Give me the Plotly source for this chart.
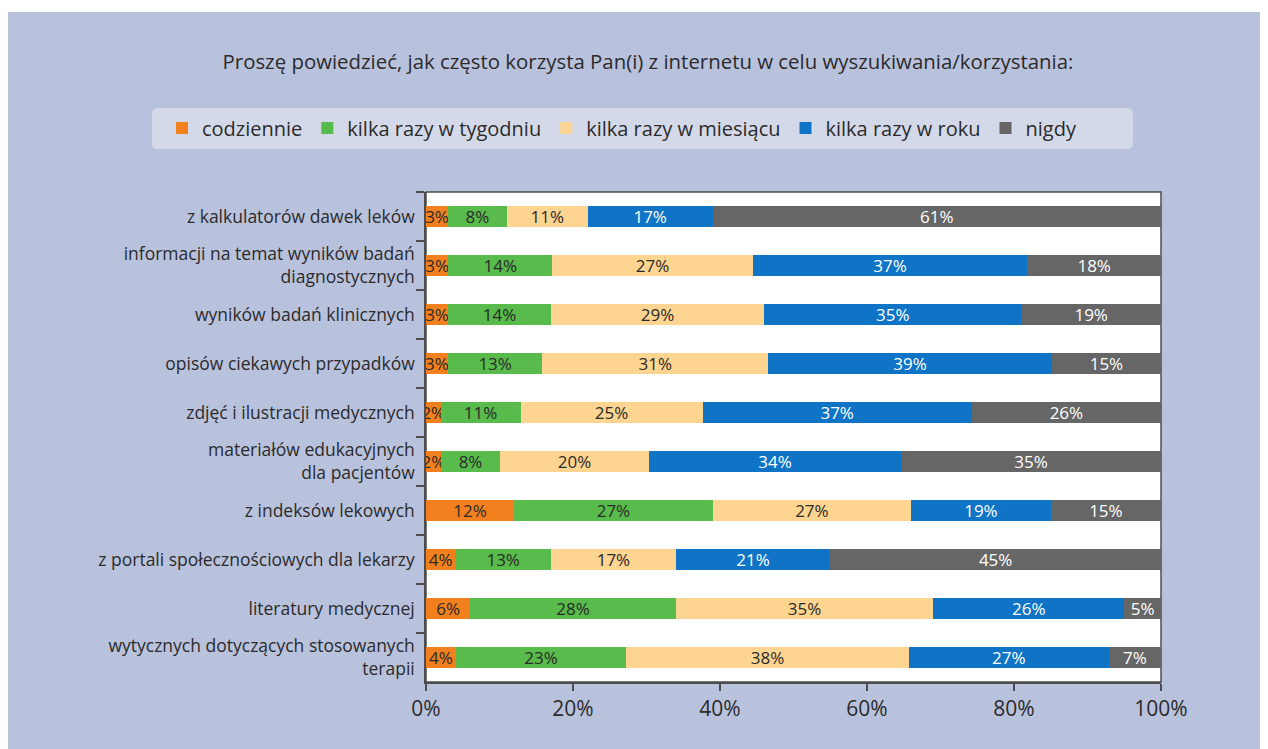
import plotly.graph_objects as go

categories = [
    "z kalkulatorów dawek leków",
    "informacji na temat wyników badań<br>diagnostycznych",
    "wyników badań klinicznych",
    "opisów ciekawych przypadków",
    "zdjęć i ilustracji medycznych",
    "materiałów edukacyjnych<br>dla pacjentów",
    "z indeksów lekowych",
    "z portali społecznościowych dla lekarzy",
    "literatury medycznej",
    "wytycznych dotyczących stosowanych<br>terapii",
]
series_names = ["codziennie", "kilka razy w tygodniu", "kilka razy w miesiącu", "kilka razy w roku", "nigdy"]
codziennie = [3, 3, 3, 3, 2, 2, 12, 4, 6, 4]
tygodniu = [8, 14, 14, 13, 11, 8, 27, 13, 28, 23]
miesiacu = [11, 27, 29, 31, 25, 20, 27, 17, 35, 38]
roku = [17, 37, 35, 39, 37, 34, 19, 21, 26, 27]
nigdy = [61, 18, 19, 15, 26, 35, 15, 45, 5, 7]
x_ticks = [0, 20, 40, 60, 80, 100]

series_values = [codziennie, tygodniu, miesiacu, roku, nigdy]
colors = ["#f2801e", "#58bb4b", "#fdd490", "#0f74c6", "#666666"]
text_colors = ["#2a2a2a", "#2a2a2a", "#2a2a2a", "#ffffff", "#ffffff"]

FONT = "Open Sans"
TXT = "#2b2b2b"
fig = go.Figure()
for name, vals, col, tcol in zip(series_names, series_values, colors, text_colors):
    fig.add_trace(go.Bar(
        y=categories, x=vals, name=name, orientation="h",
        marker=dict(color=col, line=dict(width=0)),
        text=[f"{v}%" for v in vals], textposition="inside", textangle=0,
        insidetextanchor="middle",
        textfont=dict(color=tcol, size=17, family=FONT),
        width=0.41,
    ))

# page body has an 8px margin: figure coords = screen coords - 8
OFF = 8
W, H = 1260, 741
L, T = 426 - OFF, 192 - OFF
pw, ph = 735, 490
R, B = W - L - pw, H - T - ph

def px(xs):
    return (xs - OFF - L) / pw

def py(ys):
    return (T + ph - (ys - OFF)) / ph

# rounded legend box path
bx0, bx1, by0, by1 = px(152), px(1133), py(149), py(108)
rx, ry = 6 / pw, 6 / ph
legend_path = (
    f"M{bx0+rx},{by0} L{bx1-rx},{by0} Q{bx1},{by0} {bx1},{by0+ry} "
    f"L{bx1},{by1-ry} Q{bx1},{by1} {bx1-rx},{by1} L{bx0+rx},{by1} "
    f"Q{bx0},{by1} {bx0},{by1-ry} L{bx0},{by0+ry} Q{bx0},{by0} {bx0+rx},{by0} Z"
)

shapes = [
    dict(type="rect", xref="paper", yref="paper", x0=px(0), x1=px(1300), y0=py(800), y1=py(12),
         fillcolor="#b9c2dd", line=dict(width=0), layer="below"),
    dict(type="path", xref="paper", yref="paper", path=legend_path,
         fillcolor="#d4d9e9", line=dict(width=0), layer="below"),
    dict(type="rect", xref="paper", yref="paper", x0=0, x1=1, y0=0, y1=1,
         fillcolor="#ffffff", line=dict(color="#4d4d4d", width=1.5), layer="below"),
]

fig.update_layout(
    width=W, height=H,
    barmode="stack", barnorm="percent",
    paper_bgcolor="#ffffff", plot_bgcolor="#ffffff",
    margin=dict(l=L, r=R, t=T, b=B, autoexpand=False),
    font=dict(family=FONT, color=TXT),
    title=dict(text="Proszę powiedzieć, jak często korzysta Pan(i) z internetu w celu wyszukiwania/korzystania:",
               x=(648 - OFF) / W, y=1 - (62 - OFF) / H, xanchor="center", yanchor="middle",
               font=dict(size=20.4, family=FONT, color=TXT)),
    legend=dict(orientation="h", x=px(162), y=py(128), xanchor="left", yanchor="middle",
                bgcolor="rgba(0,0,0,0)", font=dict(size=20, family=FONT, color=TXT),
                traceorder="normal", itemclick=False, itemdoubleclick=False),
    uniformtext=dict(minsize=17, mode="show"),
    shapes=shapes,
    showlegend=True,
)
fig.update_xaxes(range=[0, 100], tickvals=x_ticks, ticktext=[f"{v}%" for v in x_ticks],
                 showgrid=False, zeroline=False, showline=True, linecolor="#4d4d4d", linewidth=1.5,
                 ticks="outside", ticklen=7, tickcolor="#4d4d4d", tickwidth=1.5,
                 tickfont=dict(size=21, family=FONT, color=TXT), fixedrange=True)
fig.update_yaxes(autorange="reversed", showgrid=False, zeroline=False, showline=True,
                 linecolor="#4d4d4d", linewidth=1.5, ticks="outside", ticklen=8,
                 tickcolor="#4d4d4d", tickwidth=1.5, tickson="boundaries",
                 tickfont=dict(size=17.5, family=FONT, color=TXT), ticklabelstandoff=6,
                 fixedrange=True)

fig.write_html("out.html")
